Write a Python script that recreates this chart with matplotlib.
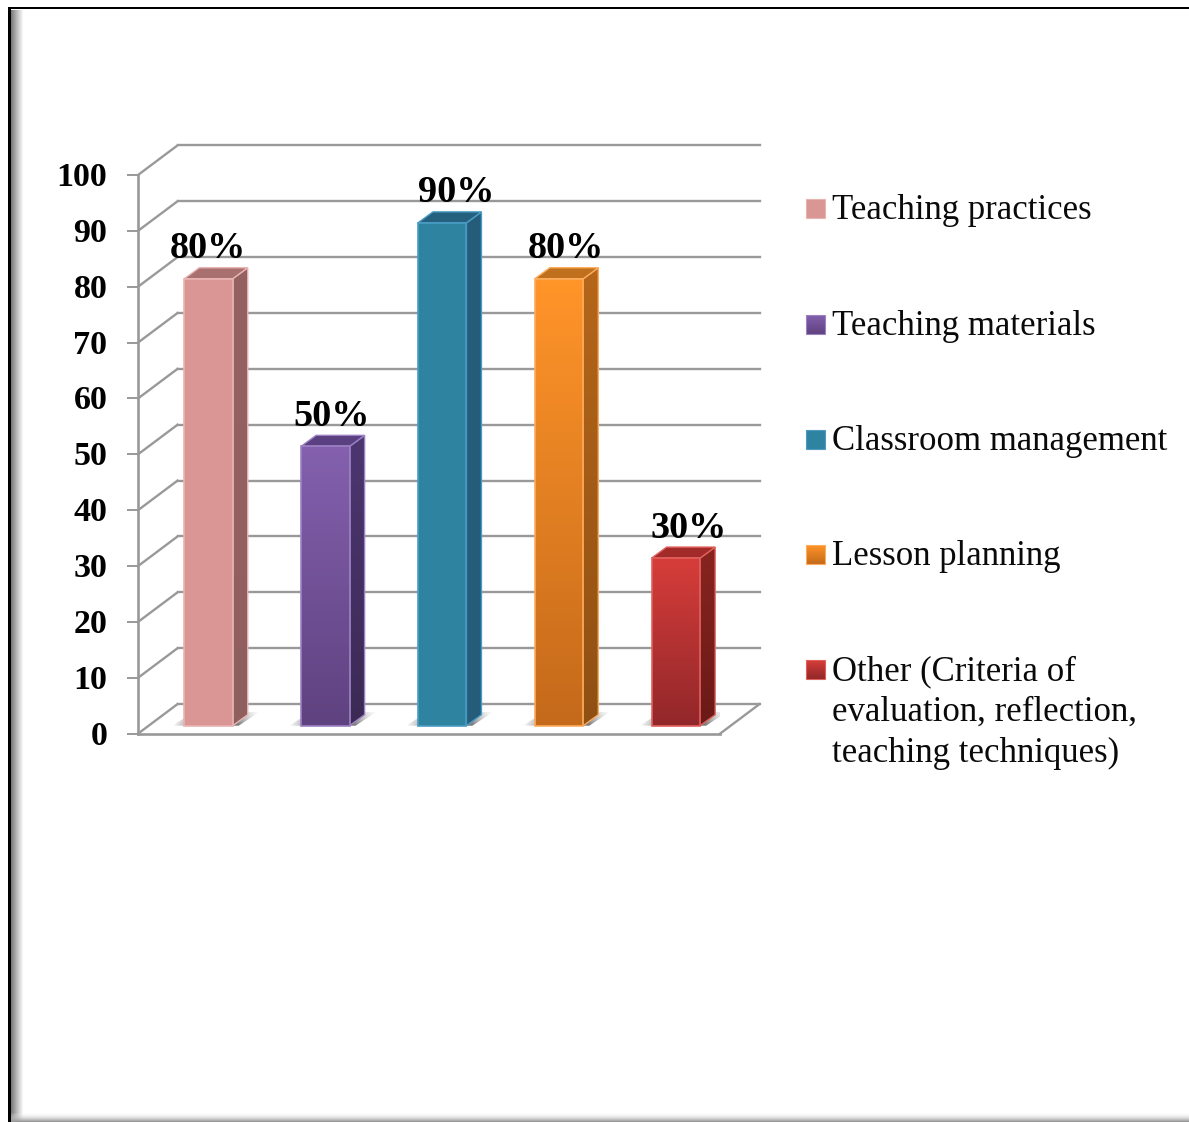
import matplotlib
matplotlib.use('Agg')
import matplotlib.pyplot as plt
import matplotlib.transforms as mtrans
from matplotlib.colors import to_rgb
from matplotlib.patches import Polygon, Rectangle
import numpy as np

categories = ['Teaching practices', 'Teaching materials', 'Classroom management',
              'Lesson planning', 'Other (Criteria of\nevaluation, reflection,\nteaching techniques)']
values = [80, 50, 90, 80, 30]
y_ticks = [0, 10, 20, 30, 40, 50, 60, 70, 80, 90, 100]

front_top = ['#d99694', '#8460ae', '#2e84a0', '#ff9429', '#d63d3a']
front_bottom = ['#d99694', '#5f4280', '#2e84a0', '#c56a1b', '#92272a']
side_top = ['#956261', '#4c3670', '#245c7a', '#b5661a', '#88241f']
side_bottom = ['#8f5f5e', '#3c2a55', '#245c7a', '#8f5013', '#6a1a18']
roof = ['#a8716f', '#5a4080', '#25607e', '#c0701c', '#a22a28']
edges = ['#e8b4b2', '#9c82c4', '#4a9cc4', '#fdab5c', '#e0605c']
label_dx = [-1, 6, 14, 7, 13]

W, H = 1189, 1122
GRID = '#999999'
PITCH = 582 / 5
plt.rcParams['font.family'] = ['Liberation Serif', 'DejaVu Serif']

fig = plt.figure(figsize=(W / 100, H / 100), dpi=100)


def fig_rect(x0, y0, x1, y1):
    return [x0 / W, 1 - y1 / H, (x1 - x0) / W, (y1 - y0) / H]


# page frame with its soft shadow, in pixels
bg = fig.add_axes([0, 0, 1, 1], zorder=0)
bg.axis('off')
shade = np.linspace(0.35, 1, 14) ** 0.8
bg.imshow(shade[None, :], extent=(10, 24, H, 10), cmap='gray', vmin=0, vmax=1, aspect='auto')
bottom_shade = np.linspace(1, 0.6, 10)
bg.imshow(np.dstack([np.ones((10, 1, 3)) * bottom_shade[:, None, None], np.linspace(0, 1, 10)[:, None, None]]),
          extent=(10, W, H, H - 10), aspect='auto')
bg.add_patch(Rectangle((8, 8), 2.5, H, color='black', lw=0))
bg.add_patch(Rectangle((8, 7), W, 2, color='black', lw=0))
bg.set_xlim(0, W)
bg.set_ylim(H, 0)

# plot area is the front plane of the 3D box
ax = fig.add_axes(fig_rect(138, 175, 720, 733.7), zorder=1)
ax.patch.set_alpha(0)
for s in ['top', 'right']:
    ax.spines[s].set_visible(False)
for s in ['left', 'bottom']:
    ax.spines[s].set_color(GRID)
    ax.spines[s].set_linewidth(1.9)
ax.set_xticks([])
ax.set_yticks(y_ticks)
ax.tick_params(axis='y', length=8, width=1.4, color=GRID, pad=14)
for t in ax.get_yticklabels():
    t.set_fontsize(24.5)
    t.set_fontweight('bold')
    t.set_transform(t.get_transform() + mtrans.Affine2D().translate(0, 1))

to_px = 72 / fig.dpi
back = ax.transData + mtrans.Affine2D().translate(39.5, 29.6)
base = ax.transData + mtrans.Affine2D().translate(0, 8)
ax.set_xlim(0, 5)
ax.set_ylim(0, 100)

# back wall lines and floor / wall diagonals
for v in y_ticks:
    ax.plot([0, 5], [v, v], color=GRID, lw=1.7, transform=back, clip_on=False, zorder=1)
    p0 = ax.transData.transform((0, v))
    ax.plot([p0[0], p0[0] + 39.5], [p0[1], p0[1] + 29.6], color=GRID, lw=1.7,
            transform=None, clip_on=False, zorder=1)
p1 = ax.transData.transform((5, 0))
ax.plot([p1[0], p1[0] + 39.5], [p1[1], p1[1] + 29.6], color=GRID, lw=1.7,
        transform=None, clip_on=False, zorder=1)


def gradient(c_top, c_bottom, n=64):
    a, b = np.array(to_rgb(c_top)), np.array(to_rgb(c_bottom))
    return np.linspace(a, b, n)[:, None, :]


# gray floor shadow that fades out sideways and away from the bar
fade_x = np.interp(np.linspace(0, 1, 80), [0, 0.2, 0.75, 1], [0, 0.7, 0.95, 0])
fade_y = np.linspace(0.4, 1, 30)
shadow_rgba = np.ones((30, 80, 4)) * 0.42
shadow_rgba[..., 3] = fade_y[:, None] * fade_x[None, :]

bar_w = 48.5 / PITCH
dep_x, dep_y = 15, 11
for i, v in enumerate(values):
    xc = i + 0.5 + (12.3 + i * 0.45) / PITCH
    x0, x1 = xc - bar_w / 2, xc + bar_w / 2
    (px0, py0), (px1, py1) = base.transform([(x0, 0), (x1, v)])

    # floor shadow
    shadow_poly = Polygon([(px0 - 12, py0), (px1 + 6, py0), (px1 + 27, py0 + 14), (px0 + 10, py0 + 14)],
                          closed=True, fc='none', ec='none', transform=None)
    ax.add_patch(shadow_poly)
    sh = ax.imshow(shadow_rgba, aspect='auto', zorder=2, transform=base,
                   extent=(x0 - 12 / PITCH, x1 + 27 / PITCH, 0, 14 / 5.587))
    sh.set_clip_path(shadow_poly)

    # side face
    side_poly = Polygon([(px1, py0), (px1 + dep_x, py0 + dep_y), (px1 + dep_x, py1 + dep_y), (px1, py1)],
                        closed=True, fc='none', ec=edges[i], lw=1, transform=None, zorder=4, clip_on=False)
    ax.add_patch(side_poly)
    im = ax.imshow(gradient(side_top[i], side_bottom[i]), aspect='auto', zorder=3,
                   extent=(x1, x1 + dep_x / PITCH, 0, v + dep_y / 5.587), transform=base)
    im.set_clip_path(side_poly)

    # roof
    ax.add_patch(Polygon([(px0, py1), (px1, py1), (px1 + dep_x, py1 + dep_y), (px0 + dep_x, py1 + dep_y)],
                         closed=True, fc=roof[i], ec=edges[i], lw=1, transform=None, zorder=4, clip_on=False))

    # front face
    ax.imshow(gradient(front_top[i], front_bottom[i]), aspect='auto', zorder=5,
              extent=(x0, x1, 0, v), transform=base, clip_on=False)
    ax.bar(xc, v, width=bar_w, fc='none', ec=edges[i], lw=1.2, zorder=6, transform=base, clip_on=False)

    ax.annotate(f'{v}%', (xc, v), xycoords=base, xytext=(label_dx[i] * to_px, 30 * to_px),
                textcoords='offset points', ha='center', va='center', fontsize=27.5,
                fontweight='bold', zorder=8, annotation_clip=False)

ax.set_xlim(0, 5)
ax.set_ylim(0, 100)

# legend, laid out by hand because the last entry wraps
leg = fig.add_axes([0, 0, 1, 1], zorder=2)
leg.axis('off')
legend_y = [208, 324, 439, 554, 669]
for i, name in enumerate(categories):
    y = legend_y[i]
    leg.imshow(gradient(front_top[i], front_bottom[i]), aspect='auto',
               extent=(806, 825, y + 9.5, y - 9.5))
    leg.add_patch(Rectangle((806, y - 9.5), 19, 19, fc='none', ec=edges[i], lw=0.8))
    # first line baseline sits just under the marker's bottom edge
    leg.text(832, y - 14, name, fontsize=25, va='top', ha='left', linespacing=1.32, color='#0a0a0a')
leg.set_xlim(0, W)
leg.set_ylim(H, 0)

plt.savefig('out.png', dpi=100)
